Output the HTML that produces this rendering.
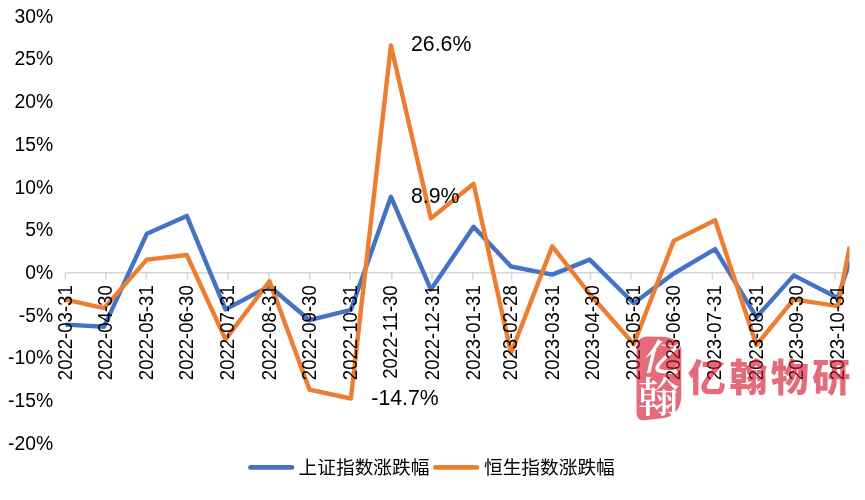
<!DOCTYPE html>
<html lang="zh-CN">
<head>
<meta charset="utf-8">
<title>上证指数涨跌幅 / 恒生指数涨跌幅</title>
<style>
html,body{margin:0;padding:0;background:#fff;}
body{width:865px;height:500px;overflow:hidden;position:relative;font-family:'Liberation Sans','Noto Sans CJK SC',sans-serif;}
svg{position:absolute;left:0;top:0;display:block;}
text{font-family:'Liberation Sans','Noto Sans CJK SC',sans-serif;}
.yl{font-size:19.3px;fill:#000;text-anchor:end;}
.xl{font-size:18.55px;fill:#000;text-anchor:end;}
.dl{font-size:21.3px;fill:#000;}
.lg{font-size:18.7px;fill:#000;}
.wm{font-family:'Liberation Sans','Noto Sans CJK SC',sans-serif;font-weight:900;font-size:38px;fill:#d51228;letter-spacing:3.4px;}
.seal{font-family:'Liberation Serif','Noto Serif CJK SC',serif;font-weight:600;fill:#fff;}
</style>
</head>
<body>
<svg width="865" height="500" viewBox="0 0 865 500">
<rect x="0" y="0" width="865" height="500" fill="#ffffff"/>
<defs><clipPath id="plot"><rect x="60" y="0" width="789.5" height="500"/></clipPath></defs>

<g stroke="#d6d6d6" stroke-width="1.5" fill="none">
<line x1="64.8" y1="272.8" x2="849.3" y2="272.8"/>
<line x1="65.4" y1="272.8" x2="65.4" y2="279.6"/>
<line x1="105.8" y1="272.8" x2="105.8" y2="279.6"/>
<line x1="146.3" y1="272.8" x2="146.3" y2="279.6"/>
<line x1="187.5" y1="272.8" x2="187.5" y2="279.6"/>
<line x1="228.0" y1="272.8" x2="228.0" y2="279.6"/>
<line x1="268.9" y1="272.8" x2="268.9" y2="279.6"/>
<line x1="309.8" y1="272.8" x2="309.8" y2="279.6"/>
<line x1="350.1" y1="272.8" x2="350.1" y2="279.6"/>
<line x1="391.8" y1="272.8" x2="391.8" y2="279.6"/>
<line x1="432.0" y1="272.8" x2="432.0" y2="279.6"/>
<line x1="472.8" y1="272.8" x2="472.8" y2="279.6"/>
<line x1="511.6" y1="272.8" x2="511.6" y2="279.6"/>
<line x1="550.3" y1="272.8" x2="550.3" y2="279.6"/>
<line x1="590.5" y1="272.8" x2="590.5" y2="279.6"/>
<line x1="631.0" y1="272.8" x2="631.0" y2="279.6"/>
<line x1="672.0" y1="272.8" x2="672.0" y2="279.6"/>
<line x1="712.4" y1="272.8" x2="712.4" y2="279.6"/>
<line x1="753.0" y1="272.8" x2="753.0" y2="279.6"/>
<line x1="794.2" y1="272.8" x2="794.2" y2="279.6"/>
<line x1="835.2" y1="272.8" x2="835.2" y2="279.6"/>
</g>
<g class="yl">
<text x="53.1" y="22.7">30%</text>
<text x="53.1" y="65.4">25%</text>
<text x="53.1" y="108.1">20%</text>
<text x="53.1" y="150.8">15%</text>
<text x="53.1" y="193.5">10%</text>
<text x="53.1" y="236.3">5%</text>
<text x="53.1" y="279.0">0%</text>
<text x="53.1" y="321.7">-5%</text>
<text x="53.1" y="364.4">-10%</text>
<text x="53.1" y="407.1">-15%</text>
<text x="53.1" y="449.8">-20%</text>
</g>
<g clip-path="url(#plot)" fill="none" stroke-width="4.4" stroke-linejoin="round" stroke-linecap="butt">
<polyline stroke="#4472c4" points="65.4,324.6 104.1,326.7 146.8,233.8 186.8,215.9 225.5,309.4 269.5,286.2 309.5,320.2 350.9,309.8 390.9,196.7 430.9,289.6 473.6,226.8 511.0,266.5 552.3,274.6 589.7,259.6 633.7,303.3 673.7,273.5 715.1,249.1 756.4,317.2 793.8,275.4 837.8,298.0 849.7,261.2"/>
<polyline stroke="#ed7d31" points="65.4,299.7 104.1,308.1 146.8,259.6 186.8,255.0 225.5,339.3 269.5,281.3 309.5,389.7 350.9,398.5 390.9,45.5 430.9,218.4 473.6,183.8 511.0,353.2 552.3,246.3 589.7,294.0 633.7,344.1 673.7,240.9 715.1,220.3 756.4,345.0 793.8,299.4 837.8,306.2 849.7,246.6"/>
</g>
<g class="xl">
<text transform="translate(71.7,285.3) rotate(-90) scale(1,1.06)">2022-03-31</text>
<text transform="translate(111.7,285.3) rotate(-90) scale(1,1.06)">2022-04-30</text>
<text transform="translate(153.1,285.3) rotate(-90) scale(1,1.06)">2022-05-31</text>
<text transform="translate(193.1,285.3) rotate(-90) scale(1,1.06)">2022-06-30</text>
<text transform="translate(234.4,285.3) rotate(-90) scale(1,1.06)">2022-07-31</text>
<text transform="translate(275.8,285.3) rotate(-90) scale(1,1.06)">2022-08-31</text>
<text transform="translate(315.8,285.3) rotate(-90) scale(1,1.06)">2022-09-30</text>
<text transform="translate(357.2,285.3) rotate(-90) scale(1,1.06)">2022-10-31</text>
<text transform="translate(397.2,285.3) rotate(-90) scale(1,1.06)">2022-11-30</text>
<text transform="translate(438.6,285.3) rotate(-90) scale(1,1.06)">2022-12-31</text>
<text transform="translate(479.9,285.3) rotate(-90) scale(1,1.06)">2023-01-31</text>
<text transform="translate(517.3,285.3) rotate(-90) scale(1,1.06)">2023-02-28</text>
<text transform="translate(558.6,285.3) rotate(-90) scale(1,1.06)">2023-03-31</text>
<text transform="translate(598.6,285.3) rotate(-90) scale(1,1.06)">2023-04-30</text>
<text transform="translate(640.0,285.3) rotate(-90) scale(1,1.06)">2023-05-31</text>
<text transform="translate(680.0,285.3) rotate(-90) scale(1,1.06)">2023-06-30</text>
<text transform="translate(721.4,285.3) rotate(-90) scale(1,1.06)">2023-07-31</text>
<text transform="translate(762.7,285.3) rotate(-90) scale(1,1.06)">2023-08-31</text>
<text transform="translate(802.7,285.3) rotate(-90) scale(1,1.06)">2023-09-30</text>
<text transform="translate(844.1,285.3) rotate(-90) scale(1,1.06)">2023-10-31</text>
</g>
<g opacity="0.62">
<mask id="sealmask" maskUnits="userSpaceOnUse" x="630" y="330" width="60" height="100"><rect x="630" y="330" width="60" height="100" fill="#fff"/><g style="fill:#000">
<text class="seal" style="fill:#000" font-size="37" transform="translate(641.5,369.5) rotate(5) skewX(-8)">亿</text>
<text class="seal" style="fill:#000" font-size="41" transform="translate(638,411.5)">翰</text>
</g></mask>
<path fill="#d51228" mask="url(#sealmask)" d="M636.5 349 C636.8 341 640 336.8 647 336.5 L662 336.8 C672 337.2 680.8 341.5 681.3 350 L681.3 395 C681.3 408 675 416 664 418 L645 420.3 C640 420.8 636.8 418.5 636.5 413 Z"/>
<text class="wm" x="688" y="391">亿翰物研</text>
</g>
<g class="dl">
<text x="411" y="51.2">26.6%</text>
<text x="411" y="202.6">8.9%</text>
<text x="371.3" y="404.6">-14.7%</text>
</g>
<g fill="none" stroke-width="4.6" stroke-linecap="round">
<line x1="250.4" y1="467.4" x2="292" y2="467.4" stroke="#4472c4"/>
<line x1="435.4" y1="467.4" x2="477" y2="467.4" stroke="#ed7d31"/>
</g>
<g class="lg">
<text x="298.6" y="474.3">上证指数涨跌幅</text>
<text x="484" y="474.3">恒生指数涨跌幅</text>
</g>
</svg>
</body>
</html>
